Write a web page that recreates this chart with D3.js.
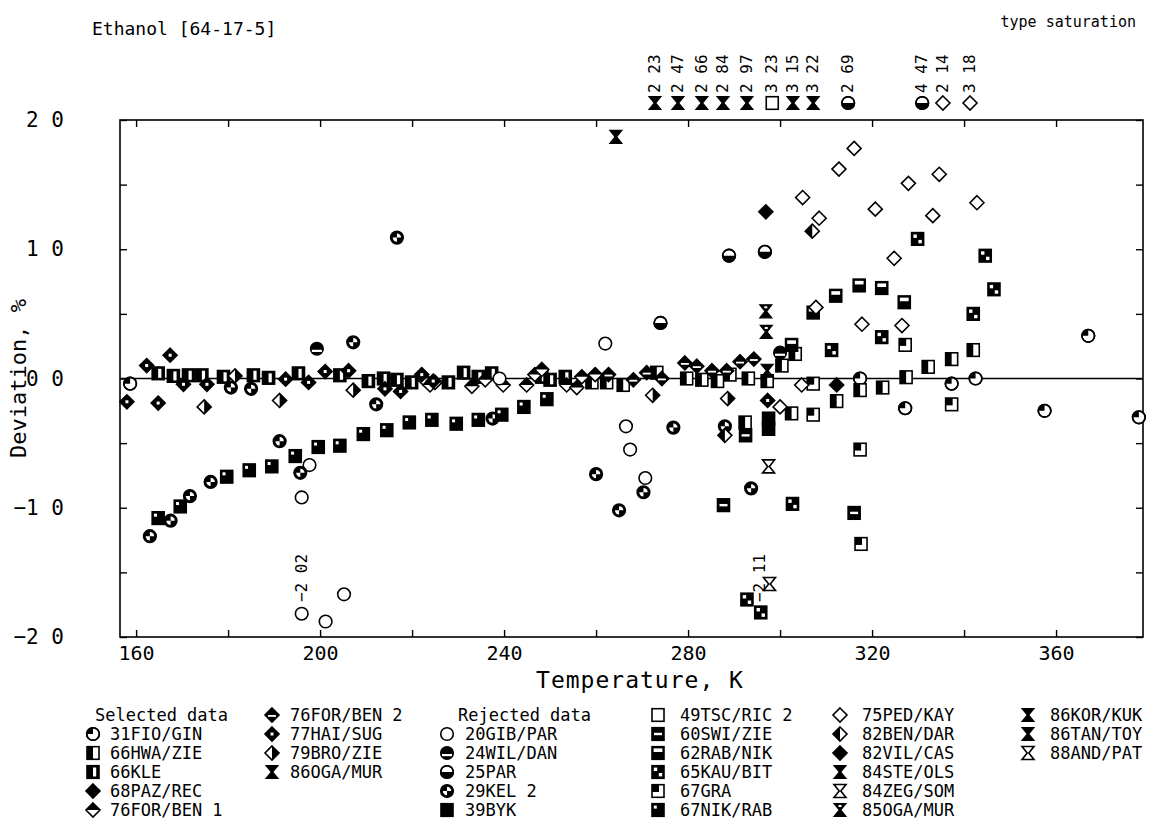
<!DOCTYPE html>
<html><head><meta charset="utf-8">
<script src="https://cdn.jsdelivr.net/npm/d3@7"></script>
<style>
body{margin:0;background:#fff}
svg{display:block}
text{font-family:"DejaVu Sans Mono",monospace;fill:#000}
</style>
</head><body>
<svg id="chart" width="1158" height="819"></svg>
<script>
// ---------- data (T in K, deviation in %) ----------
const xTicks = [160, 200, 240, 280, 320, 360];
const yTicks = [-2, -1, 0, 1, 2];

const s31FIO_GIN = [[158.7,-0.04],[317.4,0.0],[337.3,-0.04],[327.2,-0.23],[342.5,0.0],[357.5,-0.25],[367,0.33],[378,-0.3]];
const s66HWA_ZIE = [[259.1,-0.03],[262.3,-0.03],[265.9,-0.05],[273.2,0.045],[279.7,0.0],[283,-0.01],[286.4,-0.02],[289.1,0.03],[293.1,0.0],[297.2,-0.02],[300.4,0.1],[303.3,0.19],[312.3,-0.175],[317.4,-0.09],[322.3,-0.07],[327.4,0.01],[332.2,0.09],[337.3,0.15],[342,0.22],[302.5,-0.27],[292.4,-0.34]];
const s66KLE = [[164.8,0.04],[168.1,0.02],[171.4,0.025],[174.3,0.025],[179,0.013],[185.5,0.025],[188.8,0.005],[195.3,0.04],[204.3,0.025],[210.5,-0.02],[213.8,0.0],[216.7,-0.01],[219.9,-0.03],[227.9,-0.03],[231.2,0.045],[234.4,0.013],[237.3,0.04],[248.2,0.013],[250,-0.01],[253.3,0.013]];
const s68PAZ_REC = [[312.3,-0.05]];
const s76FOR_BEN1 = [[222.5,0.0],[223.9,-0.05],[225,-0.03],[233,-0.06],[235.9,-0.01],[239.8,-0.05],[244.9,-0.05],[246.7,0.03],[248.2,0.07],[253.6,-0.05],[255.8,-0.07],[256.9,0.013],[259.8,0.03]];
const s76FOR_BEN2 = [[262.7,0.03],[268.1,-0.01],[271,0.045],[274.3,0.0],[279.3,0.12],[281.9,0.095],[285.2,0.06],[288.4,0.06],[291.3,0.13],[294.3,0.15]];
const s77HAI_SUG = [[162.3,0.1],[167.4,0.18],[164.8,-0.19],[170.3,-0.045],[175.4,-0.045],[192.5,-0.005],[197.5,-0.03],[201.1,0.054],[206.2,0.06],[214.1,-0.08],[217.5,-0.1],[222.1,0.03],[224.6,-0.02],[297.3,-0.17],[158,-0.18]];
const s79BRO_ZIE = [[174.8,-0.22],[191.2,-0.17],[207.2,-0.09],[181.5,0.02],[272.3,-0.13],[288.6,-0.155]];
const s86OGA_MUR = [[297.2,0.06]];

const s20GIB_PAR = [[197.7,-0.67],[196,-0.92],[196,-1.82],[201.2,-1.88],[205.2,-1.67],[262,0.27],[266.5,-0.37],[267.4,-0.55],[270.7,-0.77],[239,0.0]];
const s24WIL_DAN = [[199.3,0.23],[300,0.2]];
const s25PAR = [[274,0.43],[288.9,0.95],[296.7,0.98],[314.8,2.69],[330.9,4.47]];
const s29KEL2 = [[163,-1.22],[167.5,-1.10],[171.7,-0.91],[176.2,-0.80],[191.2,-0.485],[195.7,-0.73],[180.6,-0.07],[185,-0.08],[212.2,-0.2],[207.2,0.28],[216.7,1.09],[237.5,-0.31],[276.8,-0.38],[260,-0.74],[270.3,-0.88],[265,-1.02],[293.7,-0.85],[288,-0.37]];
const s39BYK = [[297.5,-0.39],[297.5,-0.31]];
const s49TSC_RIC2 = [[298.3,3.23]];
const s60SWI_ZIE = [[292.5,-0.44],[287.7,-0.98],[316.1,-1.04]];
const s62RAB_NIK = [[312.1,0.64],[317.2,0.72],[322.1,0.70],[327,0.59],[307.2,0.51],[302.5,0.26]];
const s65KAU_BIT = [[329.9,1.08],[342,0.5],[302.7,-0.97],[292.8,-1.71],[295.8,-1.81],[322.1,0.32],[311.2,0.22],[344.6,0.95],[346.5,0.69]];
const s67GRA = [[317.4,-0.55],[317.6,-1.28],[307.2,-0.04],[307.2,-0.28],[327.2,0.26],[337.3,-0.2]];
const s67NIK_RAB = [[164.8,-1.08],[169.6,-0.99],[179.7,-0.76],[184.6,-0.71],[189.5,-0.68],[194.6,-0.6],[199.6,-0.53],[204.3,-0.52],[209.4,-0.43],[214.5,-0.40],[219.4,-0.34],[224.3,-0.32],[229.6,-0.35],[234.4,-0.32],[239.5,-0.28],[244.3,-0.22],[249.3,-0.16]];
const s75PED_KAY = [[316.1,1.78],[312.8,1.62],[304.9,1.40],[308.5,1.24],[327.9,1.51],[334.6,1.58],[320.7,1.31],[333.2,1.26],[324.8,0.93],[342.8,1.36],[307.8,0.55],[317.8,0.42],[326.5,0.41],[300,-0.22],[304.7,-0.05],[335.4,2.14],[341.3,3.18]];
const s82BEN_DAR = [[307,1.14],[288,-0.44]];
const s82VIL_CAS = [[296.9,1.29]];
const s84STE_OLS = [[272.8,2.23],[277.8,2.47],[283,2.66],[287.6,2.84],[292.8,2.97],[302.8,3.15],[307.2,3.22]];
const s84ZEG_SOM = [[297.5,-0.68]];
const s85OGA_MUR = [[296.9,0.52],[297,0.36]];
const s86KOR_KUK = [[264.3,1.87]];
const s86TAN_TOY = [];
const s88AND_PAT = [[297.7,-1.59]];

// off-scale low points noted by value only
const lowOutT = [196.1, 295.7];
const lowOutV = [-2.02, -2.11];

// legend layout: [name, series, symbol, column, row]
const series = [
  ["31FIO/GIN", s31FIO_GIN, "circQ", 0, 1],
  ["66HWA/ZIE", s66HWA_ZIE, "sqL", 0, 2],
  ["66KLE", s66KLE, "sqKLE", 0, 3],
  ["68PAZ/REC", s68PAZ_REC, "diaF", 0, 4],
  ["76FOR/BEN 1", s76FOR_BEN1, "diaT", 0, 5],
  ["76FOR/BEN 2", s76FOR_BEN2, "diaBand", 1, 0],
  ["77HAI/SUG", s77HAI_SUG, "diaC", 1, 1],
  ["79BRO/ZIE", s79BRO_ZIE, "diaL", 1, 2],
  ["86OGA/MUR", s86OGA_MUR, "hg", 1, 3],
  ["20GIB/PAR", s20GIB_PAR, "circO", 2, 1],
  ["24WIL/DAN", s24WIL_DAN, "circBand", 2, 2],
  ["25PAR", s25PAR, "circB", 2, 3],
  ["29KEL 2", s29KEL2, "circX", 2, 4],
  ["39BYK", s39BYK, "sqF", 2, 5],
  ["49TSC/RIC 2", s49TSC_RIC2, "sqO", 3, 0],
  ["60SWI/ZIE", s60SWI_ZIE, "sqBar", 3, 1],
  ["62RAB/NIK", s62RAB_NIK, "sqTop", 3, 2],
  ["65KAU/BIT", s65KAU_BIT, "sqChk", 3, 3],
  ["67GRA", s67GRA, "sqGRA", 3, 4],
  ["67NIK/RAB", s67NIK_RAB, "sqDot", 3, 5],
  ["75PED/KAY", s75PED_KAY, "diaO", 4, 0],
  ["82BEN/DAR", s82BEN_DAR, "diaHL", 4, 1],
  ["82VIL/CAS", s82VIL_CAS, "diaF", 4, 2],
  ["84STE/OLS", s84STE_OLS, "hg", 4, 3],
  ["84ZEG/SOM", s84ZEG_SOM, "hgO", 4, 4],
  ["85OGA/MUR", s85OGA_MUR, "hgW", 4, 5],
  ["86KOR/KUK", s86KOR_KUK, "hg", 5, 0],
  ["86TAN/TOY", s86TAN_TOY, "hg", 5, 1],
  ["88AND/PAT", s88AND_PAT, "hgO", 5, 2]
];

// ---------- layout ----------
const svg = d3.select("#chart");
const L = 120, R = 1143, T0 = 120, B = 637;
const x = d3.scaleLinear().domain([156.5, 378.9]).range([L, R]);
const y = d3.scaleLinear().domain([-2, 2]).range([B, T0]);

const fmt = v => d3.format(".2f")(v).replace(".", " ");
const fmt1 = v => d3.format(".1f")(v).replace(".", " ");

// ---------- symbols ----------
function sym(g, type, cx, cy) {
  const s = g.append("g").attr("transform", `translate(${cx},${cy})`);
  const r = 6.3, h = 6.3, w = 6;
  const circ = (fill) => s.append("circle").attr("r", r).attr("fill", fill).attr("stroke", "#000").attr("stroke-width", 1.6);
  const ring = () => s.append("circle").attr("r", r).attr("fill","none").attr("stroke","#000").attr("stroke-width",1.6);
  const sq = (fill) => s.append("rect").attr("x", -w).attr("y", -h).attr("width", 2*w).attr("height", 2*h).attr("fill", fill).attr("stroke", "#000").attr("stroke-width", 1.6);
  const dia = (fill) => s.append("path").attr("d", `M0,${-7}L7,0L0,7L-7,0Z`).attr("fill", fill).attr("stroke", "#000").attr("stroke-width", 1.6);
  const wedge = (a0, a1, rr, fill) => s.append("path").attr("d", d3.arc()({innerRadius:0, outerRadius:rr, startAngle:a0, endAngle:a1})).attr("fill", fill);
  const hgPath = `M-6,-6.5L6,-6.5L0.8,0L6,6.5L-6,6.5L-0.8,0Z`;
  switch (type) {
    case "circO": circ("#fff"); break;
    case "circQ": circ("#fff"); wedge(-Math.PI/2, 0, r, "#000"); ring(); break;
    case "circB": circ("#fff"); wedge(Math.PI/2, 3*Math.PI/2, r, "#000"); ring(); break;
    case "circBand": circ("#000"); s.append("rect").attr("x",-5).attr("y",1).attr("width",10).attr("height",2.2).attr("fill","#fff"); break;
    case "circX": circ("#000"); wedge(0, Math.PI/2, 4.2, "#fff"); wedge(Math.PI, 3*Math.PI/2, 4.2, "#fff"); break;
    case "sqO": sq("#fff"); break;
    case "sqF": sq("#000"); break;
    case "sqL": sq("#fff"); s.append("rect").attr("x",-w).attr("y",-h).attr("width",w).attr("height",2*h).attr("fill","#000"); break;
    case "sqKLE": sq("#000"); s.append("rect").attr("x",0).attr("y",-4.5).attr("width",3.2).attr("height",9).attr("fill","#fff"); break;
    case "sqBar": sq("#000"); s.append("rect").attr("x",-4).attr("y",-1.2).attr("width",8).attr("height",2.4).attr("fill","#fff"); break;
    case "sqTop": sq("#000"); s.append("rect").attr("x",-4.4).attr("y",-4.6).attr("width",8.8).attr("height",3.6).attr("fill","#fff"); break;
    case "sqChk": sq("#000"); s.append("rect").attr("x",-4.2).attr("y",-4.4).attr("width",3.4).attr("height",3.4).attr("fill","#fff"); s.append("rect").attr("x",0.8).attr("y",1).attr("width",3.4).attr("height",3.4).attr("fill","#fff"); break;
    case "sqGRA": sq("#fff"); s.append("rect").attr("x",-w).attr("y",-h).attr("width",w+1).attr("height",h+1).attr("fill","#000"); break;
    case "sqDot": sq("#000"); s.append("rect").attr("x",-4.2).attr("y",-4.4).attr("width",3).attr("height",3).attr("fill","#fff"); break;
    case "diaO": dia("#fff"); break;
    case "diaF": dia("#000"); break;
    case "diaT": dia("#fff"); s.append("path").attr("d","M0,-7L7,0L-7,0Z").attr("fill","#000"); break;
    case "diaBand": dia("#000"); s.append("rect").attr("x",-4).attr("y",0).attr("width",8).attr("height",1.8).attr("fill","#fff"); break;
    case "diaC": dia("#000"); s.append("rect").attr("x",-1.5).attr("y",-1.5).attr("width",3).attr("height",3).attr("fill","#fff"); break;
    case "diaL": dia("#fff"); s.append("path").attr("d","M0,-7L7,0L0,7Z").attr("fill","#000"); break;
    case "diaHL": dia("#fff"); s.append("path").attr("d","M0,-7L-7,0L0,7Z").attr("fill","#000"); break;
    case "hg": s.append("path").attr("d", hgPath).attr("fill","#000").attr("stroke","#000").attr("stroke-width",1.2); break;
    case "hgO": s.append("path").attr("d", hgPath).attr("fill","#fff").attr("stroke","#000").attr("stroke-width",1.6); break;
    case "hgW": s.append("path").attr("d", hgPath).attr("fill","#000").attr("stroke","#000").attr("stroke-width",1.2); s.append("rect").attr("x",-1.5).attr("y",-5).attr("width",3).attr("height",2).attr("fill","#fff"); break;
  }
}

// ---------- frame ----------
const frame = svg.append("g");
frame.append("rect").attr("x", L).attr("y", T0).attr("width", R-L).attr("height", B-T0)
  .attr("fill","none").attr("stroke","#000").attr("stroke-width",1.6);
frame.append("line").attr("x1", L).attr("x2", R).attr("y1", y(0)).attr("y2", y(0))
  .attr("stroke","#000").attr("stroke-width",1.4);

const monoFont = '"DejaVu Sans Mono",monospace';
const xMinor = d3.range(160, 380, 20);
svg.append("g").attr("transform", `translate(0,${B})`)
  .call(d3.axisTop(x).tickValues(xMinor).tickSize(7).tickFormat(""))
  .call(g => g.select(".domain").remove())
  .call(g => g.selectAll("line").attr("stroke-width",1.4));
svg.append("g").attr("transform", `translate(0,${T0})`)
  .call(d3.axisBottom(x).tickValues(xMinor).tickSize(7).tickFormat(""))
  .call(g => g.select(".domain").remove())
  .call(g => g.selectAll("line").attr("stroke-width",1.4));
svg.append("g").attr("transform", `translate(0,${B})`)
  .call(d3.axisBottom(x).tickValues(xTicks).tickSize(0).tickPadding(9).tickFormat(d3.format("d")))
  .call(g => g.select(".domain").remove())
  .call(g => g.selectAll("text").style("font-size","20px").style("font-family",monoFont));

const yMinor = d3.range(-2, 2.01, 0.5);
svg.append("g").attr("transform", `translate(${L},0)`)
  .call(d3.axisRight(y).tickValues(yMinor).tickSize(7).tickFormat(""))
  .call(g => g.select(".domain").remove())
  .call(g => g.selectAll("line").attr("stroke-width",1.4));
svg.append("g").attr("transform", `translate(${R},0)`)
  .call(d3.axisLeft(y).tickValues(yMinor).tickSize(7).tickFormat(""))
  .call(g => g.select(".domain").remove())
  .call(g => g.selectAll("line").attr("stroke-width",1.4));
svg.append("g").attr("transform", `translate(${L},0)`)
  .call(d3.axisLeft(y).tickValues(yTicks).tickSize(0).tickPadding(56).tickFormat(fmt1))
  .call(g => g.select(".domain").remove())
  .call(g => g.selectAll("text").style("font-size","21px").style("font-family",monoFont));

// titles
svg.append("text").attr("x", 92).attr("y", 35).style("font-size","18px").text("Ethanol  [64-17-5]");
svg.append("text").attr("x", 1136).attr("y", 27).attr("text-anchor","end").style("font-size","15px").text("type  saturation");
svg.append("text").attr("x", 640).attr("y", 688).attr("text-anchor","middle").style("font-size","23px").style("letter-spacing","1px").text("Temperature, K");
svg.append("text").attr("transform", `translate(26,${y(0)}) rotate(-90)`).attr("text-anchor","middle").style("font-size","22px").text("Deviation, %");

// ---------- points ----------
const pts = svg.append("g");
const topRowY = 103;
series.forEach(([name, data, type]) => {
  data.forEach(([t, v]) => {
    if (v > 2) {
      sym(pts, type, x(t), topRowY);
      pts.append("text").attr("transform", `translate(${x(t)+5},${topRowY-10}) rotate(-90)`)
        .style("font-size","16px").text(fmt(v));
    } else {
      sym(pts, type, x(t), y(v));
    }
  });
});
lowOutT.forEach((t, i) => {
  pts.append("text").attr("transform", `translate(${x(t)+5},${y(-1.73)}) rotate(-90)`)
    .style("font-size","16px").text(fmt(lowOutV[i]));
});

// ---------- legend ----------
const colSym = [93, 272, 447, 658, 840, 1028];
const colTxt = [110, 290, 465, 680, 862, 1050];
const rowY = d => 715 + d*19;
const leg = svg.append("g").style("font-size","17px");
leg.append("text").attr("x", 95).attr("y", rowY(0)+6).text("Selected data");
leg.append("text").attr("x", 458).attr("y", rowY(0)+6).text("Rejected data");
series.forEach(([name, data, type, c, r]) => {
  sym(leg, type, colSym[c], rowY(r));
  leg.append("text").attr("x", colTxt[c]).attr("y", rowY(r)+6).text(name);
});
</script>
</body></html>
